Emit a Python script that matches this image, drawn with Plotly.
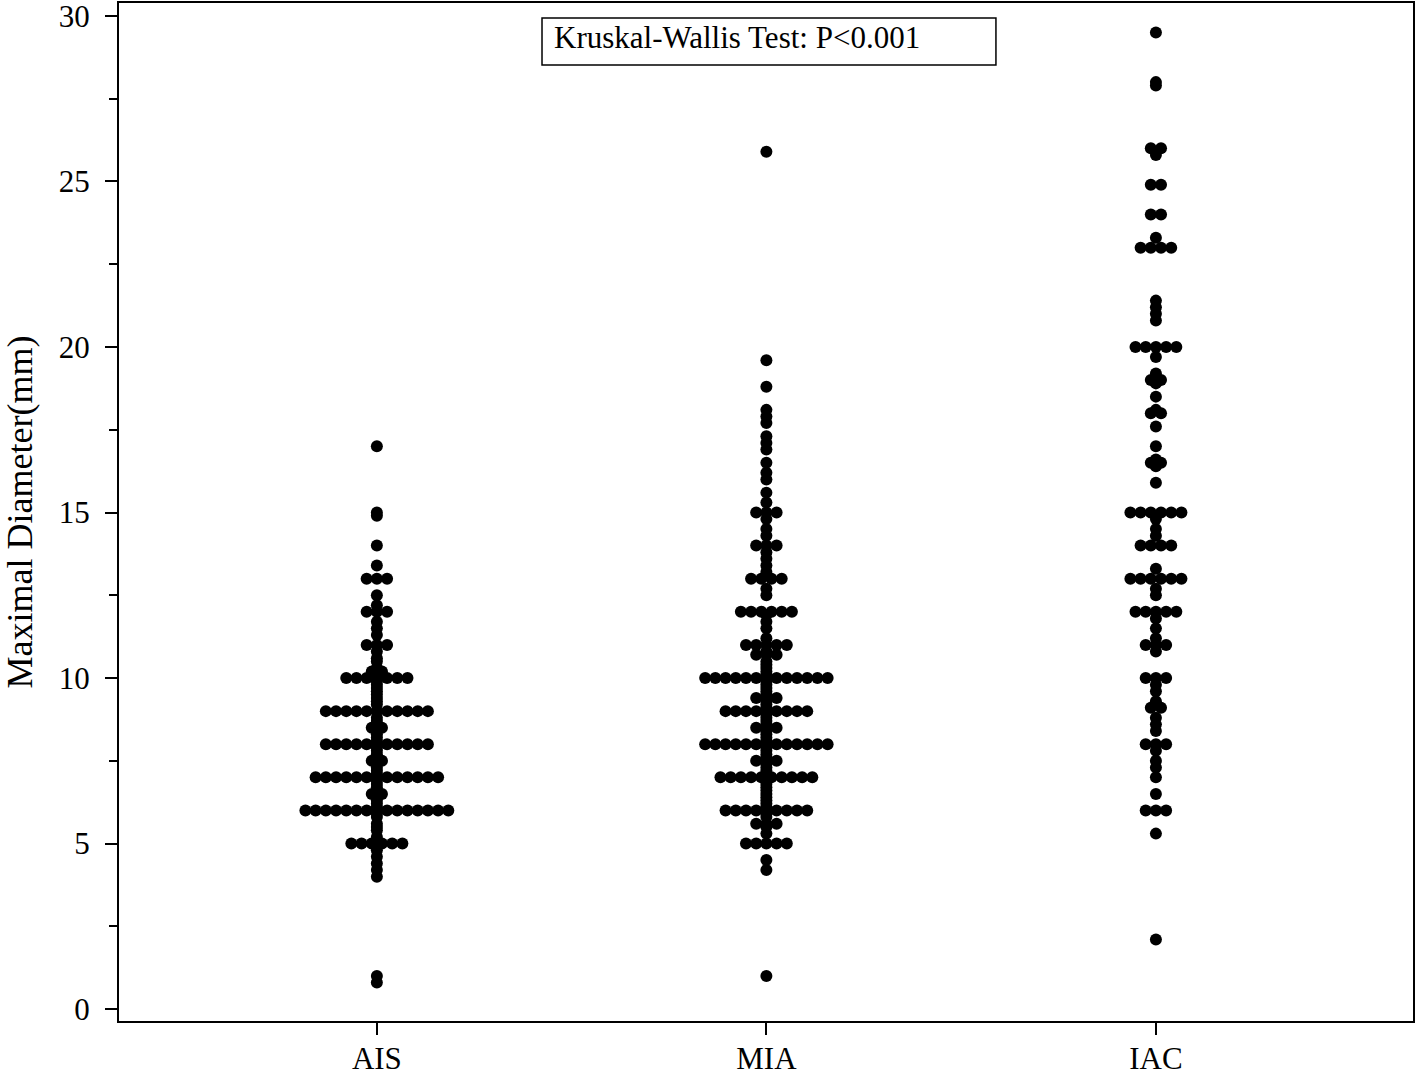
import plotly.graph_objects as go
from collections import Counter

categories = ["AIS", "MIA", "IAC"]

ais_values = (
    [17.0, 15.0, 14.9, 14.0, 13.4] + [13.0] * 3 +
    [12.5, 12.2] + [12.0] * 3 +
    [11.7, 11.5, 11.3] + [11.0] * 3 + [10.8, 10.6, 10.5, 10.3, 10.2, 10.2, 10.1] +
    [10.0] * 7 +
    [9.9, 9.8, 9.7, 9.6, 9.5, 9.4, 9.3, 9.2] +
    [9.0] * 11 +
    [8.8, 8.7, 8.6, 8.5, 8.5, 8.4, 8.3, 8.2, 8.1] +
    [8.0] * 11 +
    [7.9, 7.8, 7.7, 7.6, 7.5, 7.5, 7.4, 7.3, 7.2, 7.1] +
    [7.0] * 13 +
    [6.9, 6.8, 6.7, 6.6, 6.5, 6.5, 6.4, 6.3, 6.2, 6.1] +
    [6.0] * 15 +
    [5.9, 5.8, 5.6, 5.5, 5.4, 5.2, 5.1] +
    [5.0] * 6 +
    [4.9, 4.8, 4.6, 4.4, 4.2, 4.0, 1.0, 0.8]
)

mia_values = (
    [25.9, 19.6, 18.8, 18.1, 17.9, 17.7, 17.3, 17.1, 16.9, 16.5, 16.2, 16.0, 15.6, 15.3] +
    [15.0] * 3 + [14.8, 14.5, 14.3] +
    [14.0] * 3 + [13.8, 13.6, 13.4, 13.2] +
    [13.0] * 4 + [12.7, 12.5] +
    [12.0] * 6 + [11.9, 11.7, 11.5, 11.2] +
    [11.0] * 5 + [10.8] +
    [10.7] * 3 + [10.5, 10.4, 10.3, 10.2, 10.1] +
    [10.0] * 13 +
    [9.9, 9.8, 9.7, 9.6, 9.5] + [9.4] * 3 + [9.3, 9.2, 9.1] +
    [9.0] * 9 +
    [8.9, 8.8, 8.7, 8.6] + [8.5] * 3 + [8.4, 8.3, 8.2, 8.1] +
    [8.0] * 13 +
    [7.9, 7.8, 7.7, 7.6] + [7.5] * 3 + [7.4, 7.3, 7.2, 7.1] +
    [7.0] * 10 +
    [6.9, 6.8, 6.7, 6.6, 6.5, 6.4, 6.3, 6.2, 6.1] +
    [6.0] * 9 +
    [5.9, 5.8] + [5.6] * 3 + [5.5, 5.3] +
    [5.0] * 5 +
    [4.5, 4.2, 1.0]
)

iac_values = (
    [29.5, 28.0, 27.9] + [26.0] * 2 + [25.8] + [24.9] * 2 + [24.0] * 2 +
    [23.3] + [23.0] * 4 + [21.4, 21.2, 21.0, 20.8] +
    [20.0] * 5 + [19.7, 19.2] + [19.0] * 2 + [18.9, 18.5, 18.1] + [18.0] * 2 +
    [17.6, 17.0, 16.6] + [16.5] * 2 + [16.4, 15.9] +
    [15.0] * 6 + [14.8, 14.5, 14.3] + [14.0] * 4 +
    [13.3] + [13.0] * 6 + [12.7, 12.5] +
    [12.0] * 5 + [11.8, 11.5, 11.2] + [11.0] * 3 + [10.8] +
    [10.0] * 3 + [9.8, 9.6, 9.3] + [9.1] * 2 + [8.8, 8.6, 8.4] +
    [8.0] * 3 + [7.8, 7.5, 7.3, 7.0, 6.5] + [6.0] * 3 + [5.3, 2.1]
)

y_ticks = [0, 5, 10, 15, 20, 25, 30]
y_title = "Maximal Diameter(mm)"
annotation_text = "Kruskal-Wallis Test: P<0.001"

STEP = 0.0262  # horizontal spacing of tied values (x data units)


def swarm(values, center):
    counts = Counter(values)
    seen = Counter()
    xs, ys = [], []
    for v in values:
        n = counts[v]
        k = seen[v]
        seen[v] += 1
        xs.append(center + (k - (n - 1) / 2) * STEP)
        ys.append(v)
    return xs, ys


FONT = "Liberation Serif, Times New Roman, serif"

fig = go.Figure()
for i, vals in enumerate([ais_values, mia_values, iac_values]):
    xs, ys = swarm(vals, i)
    fig.add_trace(go.Scatter(
        x=xs, y=ys, mode="markers",
        marker=dict(color="black", size=12, line=dict(width=0)),
        showlegend=False, hoverinfo="skip",
    ))

fig.update_layout(
    width=1418, height=1076,
    margin=dict(l=119, r=5, t=3, b=55, autoexpand=False),
    plot_bgcolor="white", paper_bgcolor="white",
    font=dict(family=FONT, size=31, color="black"),
    xaxis=dict(
        range=[-0.662, 2.66],
        tickvals=[0, 1, 2], ticktext=categories,
        showgrid=False, zeroline=False, automargin=False,
        ticklabeloverflow="allow", ticklabelstandoff=-3,
        showline=True, linecolor="black", linewidth=2, mirror=True,
        ticks="outside", ticklen=12, tickwidth=2, tickcolor="black",
        tickfont=dict(family=FONT, size=31, color="black"),
    ),
    yaxis=dict(
        range=[-0.36, 30.39],
        tickvals=y_ticks,
        showgrid=False, zeroline=False, automargin=False,
        ticklabeloverflow="allow",
        showline=True, linecolor="black", linewidth=2, mirror=True,
        ticks="outside", ticklen=12, tickwidth=2, tickcolor="black",
        ticklabelstandoff=9,
        tickfont=dict(family=FONT, size=31, color="black"),
        minor=dict(dtick=2.5, tick0=0, ticks="outside", ticklen=8,
                   tickwidth=2, tickcolor="black", showgrid=False),
        title=dict(text=y_title, font=dict(family=FONT, size=36, color="black"),
                   standoff=26),
    ),
)

# annotation box (paper coordinates)
fig.add_shape(
    type="rect", xref="paper", yref="paper",
    x0=0.3269, x1=0.6777, y0=0.9391, y1=0.9853,
    line=dict(color="black", width=1.5), fillcolor="white", layer="above",
)
fig.add_annotation(
    xref="paper", yref="paper", x=0.3354, y=0.9666,
    xanchor="left", yanchor="middle",
    text=annotation_text, showarrow=False, borderpad=0,
    font=dict(family=FONT, size=31, color="black"),
)

fig.write_html(
    "out.html",
    config={"displayModeBar": False},
    post_script="document.body.style.margin='0';document.body.style.overflow='hidden';",
)
